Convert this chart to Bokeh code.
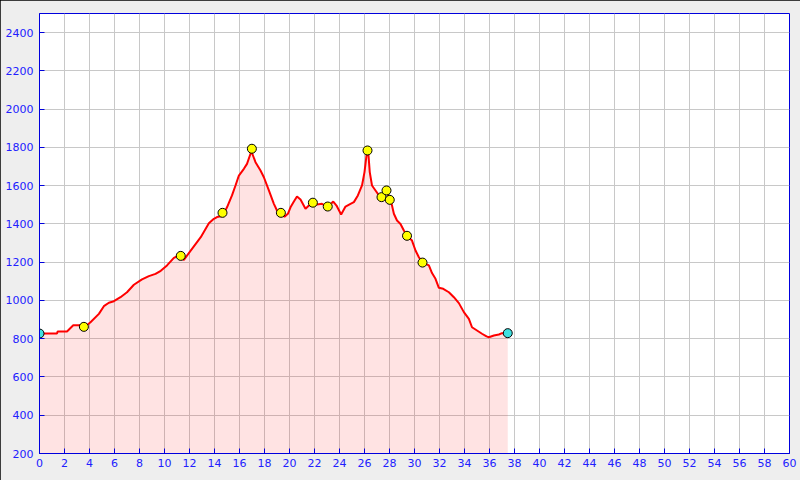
from bokeh.plotting import figure
from bokeh.models import Range1d, FixedTicker
from bokeh.embed import file_html
from bokeh.resources import INLINE

# Elevation profile (distance km, elevation m)
dist_km = [0, 1.4, 1.45, 2.2, 2.7, 3.3, 3.6, 4.08, 4.75, 5.15, 5.55, 5.95, 6.48, 7.0, 7.55,
           8.2, 8.75, 9.28, 9.7, 10.2, 10.75, 11.15, 11.55, 12.2, 12.9, 13.55, 13.95, 14.2,
           14.5, 14.75, 15.0, 15.4, 15.68, 15.95, 16.35, 16.6, 16.88, 16.95, 17.28, 17.68,
           17.95, 18.35, 18.75, 19.0, 19.3, 19.6, 19.87, 20.08, 20.35, 20.6, 20.88, 21.28,
           21.55, 21.87, 22.2, 22.6, 22.88, 23.1, 23.5, 23.76, 24.13, 24.48, 24.88, 25.15,
           25.47, 25.8, 26.0, 26.16, 26.24, 26.32, 26.42, 26.6, 26.88, 27.2, 27.5, 27.76,
           28.0, 28.2, 28.35, 28.6, 28.88, 29.15, 29.4, 29.8, 30.08, 30.35, 30.64, 31.15,
           31.4, 31.68, 31.95, 32.3, 32.75, 33.15, 33.55, 33.95, 34.35, 34.6, 35.0, 35.4,
           35.76, 35.95, 36.35, 36.75, 37.0, 37.46]
elev_m = [827, 827, 838, 838, 870, 870, 860, 886, 930, 970, 988, 996, 1017, 1043, 1082,
          1110, 1127, 1139, 1155, 1183, 1223, 1235, 1212, 1270, 1331, 1403, 1427, 1436,
          1440, 1455, 1487, 1549, 1601, 1653, 1688, 1714, 1767, 1780, 1723, 1679,
          1644, 1575, 1505, 1470, 1455, 1437, 1453, 1487, 1517, 1543, 1528, 1479,
          1496, 1508, 1502, 1505, 1496, 1491, 1517, 1496, 1449, 1491, 1505, 1514,
          1549, 1601, 1671, 1758, 1775, 1758, 1671, 1601, 1575, 1545, 1545, 1566,
          1540, 1496, 1453, 1418, 1400, 1366, 1338, 1313, 1261, 1226, 1198, 1183,
          1143, 1113, 1066, 1061, 1043, 1017, 986, 939, 904, 860, 843, 826,
          812, 808, 817, 822, 829, 829]

# Waypoints
wp_km = [3.55, 11.3, 14.64, 16.99, 19.31, 21.87, 23.06, 26.24, 27.36, 27.76, 28.02, 29.4, 30.64]
wp_elev = [862, 1233, 1458, 1793, 1458, 1511, 1491, 1784, 1540, 1575, 1526, 1338, 1198]

# Start / end points
ends_km = [0, 37.46]
ends_elev = [827, 829]

x_ticks = list(range(0, 61, 2))
y_ticks = list(range(200, 2401, 200))
base_elev = 200

p = figure(width=800, height=480, output_backend="svg", toolbar_location=None,
           x_range=Range1d(0, 60), y_range=Range1d(200, 2500))
p.min_border_left = 39
p.min_border_right = 11
p.min_border_top = 13
p.min_border_bottom = 27
p.border_fill_color = "#eeeeee"
p.background_fill_color = "white"
p.outline_line_color = "#0000dd"
p.outline_line_width = 1
p.styles = {"outline": "1px solid black", "outline-offset": "-1px"}

p.varea(x=dist_km, y1=[base_elev] * len(dist_km), y2=elev_m, fill_color="red", fill_alpha=0.11)
p.line(dist_km, elev_m, line_color="red", line_width=2)
p.scatter(wp_km, wp_elev, size=9, fill_color="#ffff00", line_color="black", line_width=1)
p.scatter(ends_km, ends_elev, size=9, fill_color="#40e0e0", line_color="black", line_width=1)

for ax in (p.xaxis[0], p.yaxis[0]):
    ax.axis_line_color = "#0000dd"
    ax.major_tick_line_color = "#0000dd"
    ax.major_tick_in = 5
    ax.major_tick_out = 0
    ax.minor_tick_line_color = None
    ax.major_label_text_color = "#2020ff"
    ax.major_label_text_font = "DejaVu Sans"
    ax.major_label_text_font_size = "11px"
p.yaxis.major_label_standoff = 6
p.xaxis.major_label_standoff = 5

p.xaxis.ticker = FixedTicker(ticks=x_ticks)
p.yaxis.ticker = FixedTicker(ticks=y_ticks)

p.xgrid.ticker = FixedTicker(ticks=x_ticks)
p.ygrid.ticker = FixedTicker(ticks=y_ticks)
for g in (p.xgrid[0], p.ygrid[0]):
    g.grid_line_color = "#c8c8c8"
    g.grid_line_width = 1

open("out.html", "w").write(file_html(p, INLINE))
